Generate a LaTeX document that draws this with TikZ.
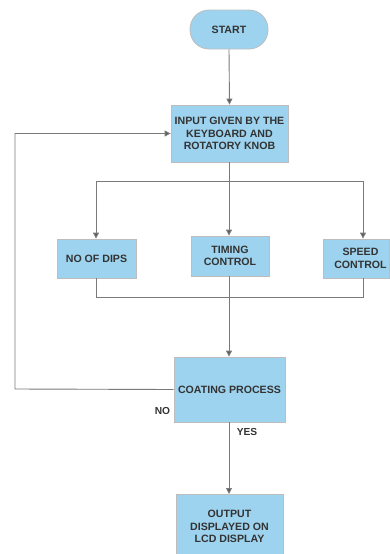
\documentclass[tikz,border=0pt]{standalone}
\usepackage{fontspec}
\setmainfont{Liberation Sans}
\usetikzlibrary{arrows.meta}
\definecolor{boxfill}{HTML}{9DD3EF}
\definecolor{boxdraw}{HTML}{BDBDBD}
\definecolor{linec}{HTML}{7A7A7A}
\definecolor{txt}{HTML}{333333}
\begin{document}
\begin{tikzpicture}[x=1pt,y=-1pt,
  box/.style={draw=boxdraw,fill=boxfill,line width=0.8pt,inner sep=0pt,align=center,
    font=\bfseries\fontsize{10.6}{12.5}\selectfont,text=txt},
  pill/.style={box,rounded corners=19pt},
  conn/.style={draw=linec,line width=0.9pt},
  arr/.style={conn,-{Triangle[length=6pt,width=6pt,fill=txt!80]}},
  lab/.style={font=\bfseries\fontsize{10.2}{11}\selectfont,text=txt,inner sep=0pt}]
\useasboundingbox (0,0) rectangle (389,554);
\node[pill,minimum width=78pt,minimum height=39pt] (start) at (229,29.5) {START};
\node[box,minimum width=117pt,minimum height=57pt] (input) at (229.5,133.5) {INPUT GIVEN BY THE\\KEYBOARD AND\\ROTATORY KNOB};
\node[box,minimum width=79pt,minimum height=39pt] (dips) at (96.5,258.5) {NO OF DIPS};
\node[box,minimum width=78pt,minimum height=40pt] (timing) at (230,256) {TIMING\\CONTROL};
\node[box,minimum width=66pt,minimum height=39pt] (speed) at (356,258.5) {\hspace*{9pt}SPEED\\\hspace*{9pt}CONTROL};
\node[box,minimum width=111pt,minimum height=65pt] (coat) at (229.5,389.5) {COATING PROCESS};
\node[box,minimum width=107pt,minimum height=64pt,anchor=north] (out) at (229.5,494) {OUTPUT\\DISPLAYED ON\\LCD DISPLAY};
\node[lab] (no) at (162.5,411) {NO};
\node[lab] (yes) at (247,432) {YES};
\coordinate (split) at (229,181);
\coordinate (sl) at (96,181);
\coordinate (sr) at (363,181);
\coordinate (ml) at (96,297);
\coordinate (mr) at (363,297);
\coordinate (merge) at (229,297);
\coordinate (fb1) at (15,389);
\coordinate (fb2) at (15,133.5);
\draw[arr] (start.south) -- (input.north);
\draw[conn] (input.south -| split) -- (split);
\draw[conn] (sl) -- (sr);
\draw[arr] (sl) -- (dips.north -| sl);
\draw[arr] (split) -- (timing.north -| split);
\draw[arr] (sr) -- (speed.north -| sr);
\draw[conn] (dips.south -| ml) -- (ml) -- (mr) -- (speed.south -| mr);
\draw[arr] (timing.south -| merge) -- (coat.north -| merge);
\draw[arr] (coat.west) -- (fb1) -- (fb2) -- (input.west);
\draw[arr] (coat.south -| merge) -- (out.north -| merge);
\end{tikzpicture}
\end{document}
